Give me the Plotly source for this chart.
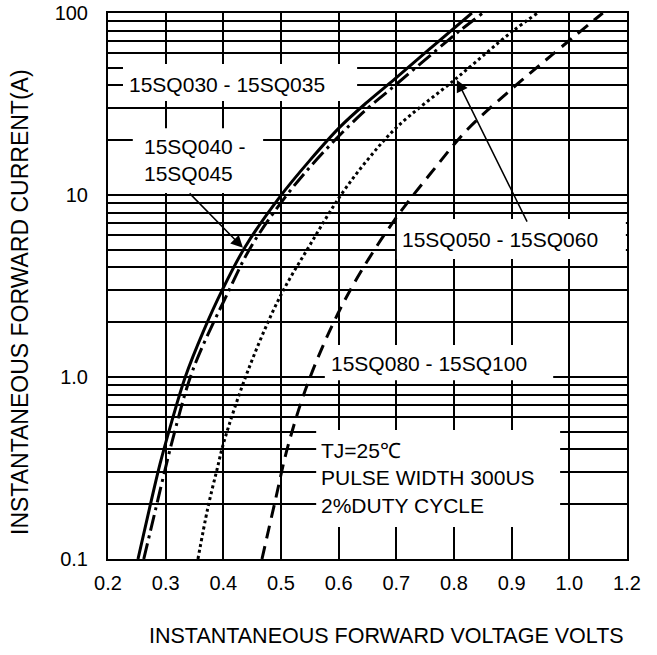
import math
import plotly.graph_objects as go

# ---------------- data ----------------
v_030 = [0.252, 0.270, 0.290, 0.310, 0.334, 0.365, 0.398, 0.438, 0.498, 0.550, 0.602, 0.650, 0.698, 0.760, 0.831]
i_030 = [0.1, 0.178, 0.331, 0.562, 1.0, 1.77, 3.0, 5.2, 9.77, 15.5, 23.6, 32.5, 43.6, 64.3, 100]

v_040 = [0.262, 0.283, 0.299, 0.311, 0.347, 0.410, 0.448, 0.508, 0.563, 0.640, 0.688, 0.743, 0.805, 0.850]
i_040 = [0.1, 0.19, 0.31, 0.44, 1.09, 3.0, 5.2, 9.8, 15.8, 28, 37.7, 53, 77.6, 100]

v_050 = [0.356, 0.373, 0.389, 0.401, 0.443, 0.498, 0.550, 0.602, 0.650, 0.701, 0.805, 0.900, 0.945]
i_050 = [0.1, 0.19, 0.31, 0.44, 1.09, 2.75, 5.3, 9.8, 15.6, 23.6, 44, 78.7, 100]

v_080 = [0.467, 0.490, 0.512, 0.547, 0.599, 0.651, 0.705, 0.760, 0.821, 0.894, 0.970, 1.058]
i_080 = [0.1, 0.209, 0.417, 0.933, 2.24, 4.4, 7.9, 13.2, 22.5, 36.8, 58.9, 100]

x_tick_vals = [0.2, 0.3, 0.4, 0.5, 0.6, 0.7, 0.8, 0.9, 1.0, 1.1]
x_tick_text = ["0.2", "0.3", "0.4", "0.5", "0.6", "0.7", "0.8", "0.9", "1.0", "1.2"]
y_tick_vals = [0.1, 1, 10, 100]
y_tick_text = ["0.1", "1.0", "10", "100"]
y_minor_vals = [m * d for d in (0.1, 1, 10) for m in range(2, 10)]

series_names = ["15SQ030 - 15SQ035", "15SQ040 - 15SQ045", "15SQ050 - 15SQ060", "15SQ080 - 15SQ100"]

FONT = "Arial, Liberation Sans, sans-serif"

fig = go.Figure()
dashes = ["solid", "16px,5px,3px,5px", "3px,3px", "13px,8px"]
for name, vx, iy, dash in zip(series_names, [v_030, v_040, v_050, v_080],
                              [i_030, i_040, i_050, i_080], dashes):
    fig.add_trace(go.Scatter(x=vx, y=iy, mode="lines", name=name,
                             line=dict(color="black", width=3, shape="spline",
                                       smoothing=1.0, dash=dash),
                             hoverinfo="skip", showlegend=False, cliponaxis=True))

L = math.log10

# white boxes that hide the grid behind labels (above grid, below curves)
# (x0, x1, y0, y1) in data units
boxes = [
    (0.226, 0.632, 32.8, 52.5),
    (0.243, 0.469, 10.25, 23.3),
    (0.701, 1.098, 4.45, 7.38),
    (0.576, 0.972, 0.96, 1.50),
    (0.561, 0.984, 0.150, 0.512),
]
for x0, x1, y0, y1 in boxes:
    fig.add_shape(type="rect", xref="x", yref="y", x0=x0, x1=x1, y0=y0, y1=y1,
                  fillcolor="white", line=dict(width=0), layer="between")

tf = dict(family=FONT, size=21, color="black")
fig.add_annotation(x=0.406, y=L(40.7), xref="x", yref="y", text="15SQ030 - 15SQ035",
                   showarrow=False, font=tf, xanchor="center", yanchor="middle")
fig.add_annotation(x=0.259, y=L(15.6), xref="x", yref="y", text="15SQ040 -<br>15SQ045",
                   showarrow=False, font=tf, xanchor="left", yanchor="middle", align="left")
fig.add_annotation(x=0.880, y=L(5.73), xref="x", yref="y", text="15SQ050 - 15SQ060",
                   showarrow=False, font=tf, xanchor="center", yanchor="middle")
fig.add_annotation(x=0.757, y=L(1.19), xref="x", yref="y", text="15SQ080 - 15SQ100",
                   showarrow=False, font=tf, xanchor="center", yanchor="middle")
fig.add_annotation(x=0.566, y=L(0.279), xref="x", yref="y",
                   text="TJ=25℃<br>PULSE WIDTH 300US<br>2%DUTY CYCLE",
                   showarrow=False, font=tf,
                   xanchor="left", yanchor="middle", align="left")

# arrows
fig.add_annotation(x=0.434, y=L(5.13), ax=0.339, ay=L(10.4), xref="x", yref="y",
                   axref="x", ayref="y", text="", showarrow=True, arrowhead=2,
                   arrowsize=1.6, arrowwidth=1.5, arrowcolor="black")
fig.add_annotation(x=0.805, y=L(42.9), ax=0.928, ay=L(7.0), xref="x", yref="y",
                   axref="x", ayref="y", text="", showarrow=True, arrowhead=2,
                   arrowsize=1.6, arrowwidth=1.5, arrowcolor="black")

# axis titles
fig.add_annotation(x=(386 - 108) / 519, y=(559 - 636) / 546, xref="paper", yref="paper",
                   text="INSTANTANEOUS FORWARD VOLTAGE VOLTS", showarrow=False,
                   font=dict(family=FONT, size=21.5, color="black"),
                   xanchor="center", yanchor="middle")
fig.add_annotation(x=(20 - 108) / 519, y=(559 - 302) / 546, xref="paper", yref="paper",
                   text="INSTANTANEOUS FORWARD CURRENT(A)", showarrow=False, textangle=-90,
                   font=dict(family=FONT, size=23, color="black"),
                   xanchor="center", yanchor="middle")

fig.update_xaxes(range=[0.2, 1.1], tickvals=x_tick_vals, ticktext=x_tick_text,
                 showgrid=True, gridcolor="black", gridwidth=2, zeroline=False,
                 showline=True, linecolor="black", linewidth=2, mirror=True,
                 ticks="", ticklabelstandoff=5, automargin=False,
                 ticklabeloverflow="allow",
                 tickfont=dict(family=FONT, size=20, color="black"))
fig.update_yaxes(type="log", range=[-1, 2], tickvals=y_tick_vals, ticktext=y_tick_text,
                 showgrid=True, gridcolor="black", gridwidth=2, zeroline=False,
                 showline=True, linecolor="black", linewidth=2, mirror=True,
                 ticks="", ticklabelstandoff=14, automargin=False,
                 ticklabeloverflow="allow",
                 minor=dict(tickvals=y_minor_vals, showgrid=True, gridcolor="black",
                            gridwidth=2, ticks=""),
                 tickfont=dict(family=FONT, size=20, color="black"))

fig.update_layout(width=657, height=655, margin=dict(l=108, r=30, t=13, b=96),
                  plot_bgcolor="white", paper_bgcolor="white", hovermode=False,
                  showlegend=False)

# remove the browser's default 8px page margin so the figure fills the window
fig.write_html("out.html", config={"displayModeBar": False},
               post_script="document.body.style.margin='0';")
